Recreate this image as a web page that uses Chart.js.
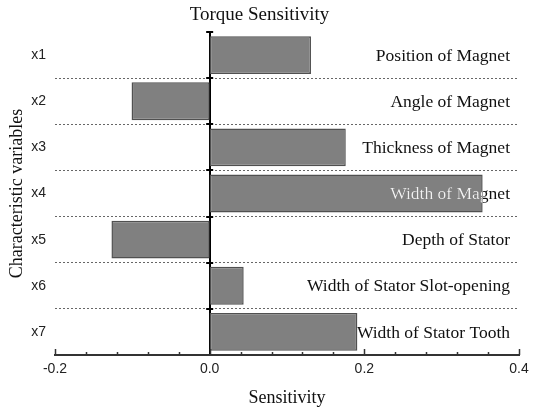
<!DOCTYPE html>
<html>
<head>
<meta charset="utf-8">
<script src="https://cdn.jsdelivr.net/npm/chart.js@4.4.0/dist/chart.umd.min.js"></script>
<style>
  html, body { margin: 0; padding: 0; background: #fff; }
  #wrap { width: 537px; height: 409px; }
</style>
</head>
<body>
<div id="wrap"><canvas id="torqueChart" width="537" height="409"></canvas></div>
<script>
// values
const variables = ['x1', 'x2', 'x3', 'x4', 'x5', 'x6', 'x7'];
const sensitivity = [0.131, -0.101, 0.176, 0.353, -0.127, 0.044, 0.191];
const descriptions = [
    'Position of Magnet',
    'Angle of Magnet',
    'Thickness of Magnet',
    'Width of Magnet',
    'Depth of Stator',
    'Width of Stator Slot-opening',
    'Width of Stator Tooth'
];
const xMin = -0.2;
const xMax = 0.4;
const minorStep = 0.04;
const majorStep = 0.2;

const serif = '"Liberation Serif", "Times New Roman", serif';
const sans = '"Liberation Sans", Arial, sans-serif';

function isMajor(v) {
    const r = v / majorStep;
    return Math.abs(r - Math.round(r)) < 1e-6;
}

// ticks pointing up into the plot, small ticks on the zero line, and the names on the right
const decorPlugin = {
    id: 'decor',
    afterDraw(chart) {
        const ctx = chart.ctx;
        const xs = chart.scales.x;
        const ys = chart.scales.y;
        const area = chart.chartArea;
        ctx.save();
        ctx.strokeStyle = '#333';
        ctx.lineWidth = 1.5;
        xs.ticks.forEach(t => {
            const px = Math.round(xs.getPixelForValue(t.value)) + 0.5;
            const len = isMajor(t.value) ? 6 : 3;
            ctx.beginPath();
            ctx.moveTo(px, area.bottom);
            ctx.lineTo(px, area.bottom - len);
            ctx.stroke();
        });
        const zx = xs.getPixelForValue(0);
        ctx.strokeStyle = '#000';
        ctx.lineWidth = 2;
        for (let i = 0; i < variables.length; i++) {
            const py = Math.round(ys.getPixelForValue(i - 0.5));
            ctx.beginPath();
            ctx.moveTo(zx - 3.5, py);
            ctx.lineTo(zx + 3.5, py);
            ctx.stroke();
        }
        ctx.restore();
    },
    afterDatasetsDraw(chart) {
        const ctx = chart.ctx;
        const xs = chart.scales.x;
        const ys = chart.scales.y;
        const meta = chart.getDatasetMeta(0);
        const tx = xs.right - 9;
        ctx.save();
        ctx.font = '17.5px ' + serif;
        ctx.textAlign = 'right';
        ctx.textBaseline = 'middle';
        descriptions.forEach((d, i) => {
            const ty = ys.getPixelForValue(i) + 1;
            ctx.fillStyle = '#111';
            ctx.fillText(d, tx, ty);
            const bar = meta.data[i];
            const left = Math.min(bar.x, bar.base);
            const w = Math.abs(bar.x - bar.base);
            ctx.save();
            ctx.beginPath();
            ctx.rect(left, bar.y - bar.height / 2, w, bar.height);
            ctx.clip();
            ctx.fillStyle = '#f2f2f2';
            ctx.fillText(d, tx, ty);
            ctx.restore();
        });
        ctx.restore();
    }
};

const ctx = document.getElementById('torqueChart').getContext('2d');

new Chart(ctx, {
    type: 'bar',
    data: {
        labels: variables,
        datasets: [{
            label: 'Sensitivity',
            data: sensitivity,
            backgroundColor: '#808080',
            borderColor: '#505050',
            borderWidth: 1.5,
            borderSkipped: false,
            barPercentage: 0.82,
            categoryPercentage: 1.0
        }]
    },
    options: {
        indexAxis: 'y',
        responsive: false,
        animation: false,
        layout: { padding: { top: 0, right: 18, bottom: 0, left: 0 } },
        plugins: {
            legend: { display: false },
            tooltip: { enabled: false },
            title: {
                display: true,
                text: 'Torque Sensitivity',
                color: '#111',
                font: { family: serif, size: 19, weight: 'normal', lineHeight: 1.2 },
                padding: { top: 4, bottom: 5.2 }
            }
        },
        scales: {
            x: {
                type: 'linear',
                min: xMin,
                max: xMax,
                z: 1,
                afterFit(scale) { scale.height = 54; },
                ticks: {
                    stepSize: minorStep,
                    maxTicksLimit: 30,
                    autoSkip: false,
                    maxRotation: 0,
                    padding: 6,
                    color: '#222',
                    font: { family: sans, size: 14 },
                    callback: v => isMajor(v) ? v.toFixed(1) : ''
                },
                grid: {
                    drawTicks: false,
                    lineWidth: 2,
                    color: c => (c.tick && Math.abs(c.tick.value) < 1e-9) ? '#000' : 'rgba(0,0,0,0)'
                },
                border: { display: true, color: '#333', width: 2 },
                title: {
                    display: true,
                    text: 'Sensitivity',
                    color: '#111',
                    font: { family: serif, size: 18, lineHeight: 1.2 },
                    padding: { top: 0, bottom: 0 }
                }
            },
            y: {
                type: 'category',
                afterFit(scale) { scale.width = 55; },
                ticks: {
                    padding: 9,
                    color: '#222',
                    font: { family: sans, size: 14 }
                },
                grid: {
                    offset: true,
                    drawTicks: false,
                    lineWidth: 1,
                    color: c => c.index === 0 ? 'rgba(0,0,0,0)' : '#666'
                },
                border: { display: false, dash: [2, 2] },
                title: {
                    display: true,
                    text: 'Characteristic variables',
                    color: '#111',
                    font: { family: serif, size: 18, lineHeight: 1.2 },
                    padding: { top: 6, bottom: 0 }
                }
            }
        }
    },
    plugins: [decorPlugin]
});
</script>
</body>
</html>
